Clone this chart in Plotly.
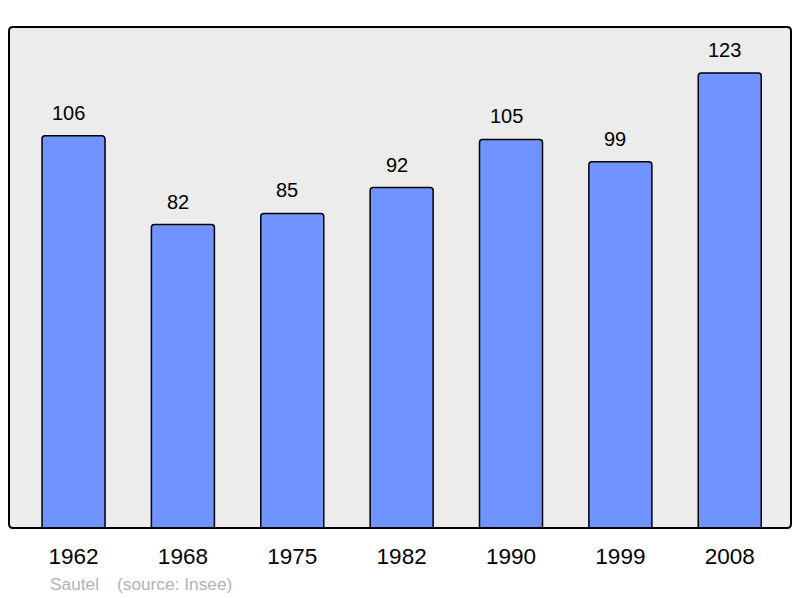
import plotly.graph_objects as go

years = ["1962", "1968", "1975", "1982", "1990", "1999", "2008"]
population = [106, 82, 85, 92, 105, 99, 123]
author_text = "Sautel"
source_text = "(source: Insee)"

# page has an 8px body margin, so the figure is drawn 8px smaller and offset
OFF = 8
W, H = 800 - OFF, 598 - OFF
L, T = 9 - OFF, 27 - OFF
R = W - (791 - OFF)
B = H - (528 - OFF)
PW, PH = W - L - R, H - T - B

fig = go.Figure()
fig.add_trace(go.Bar(
    x=years, y=population, width=0.576,
    marker=dict(color="#7094ff", line=dict(color="#000000", width=1.5), cornerradius=3),
    hoverinfo="skip",
))

ann = []
for i, v in enumerate(population):
    ann.append(dict(x=i, y=v, xref="x", yref="y", text=str(v),
                    showarrow=False, yanchor="middle", yshift=23, xshift=-5,
                    font=dict(family="Liberation Sans, Arial", size=20, color="#000")))

def px_x(x):
    return (x - OFF - L) / PW

def px_y(y):
    return (H - B - (y - OFF)) / PH

ann.append(dict(xref="paper", yref="paper", x=px_x(48), y=px_y(584),
                xanchor="left", yanchor="middle", text=author_text, showarrow=False,
                font=dict(family="Liberation Sans, Arial", size=17.3, color="#b3b3b3")))
ann.append(dict(xref="paper", yref="paper", x=px_x(115), y=px_y(584),
                xanchor="left", yanchor="middle", text=source_text, showarrow=False,
                font=dict(family="Liberation Sans, Arial", size=17.3, color="#b3b3b3")))

fig.update_layout(
    width=W, height=H,
    margin=dict(l=L, r=R, t=T, b=B, autoexpand=False),
    paper_bgcolor="#ffffff",
    plot_bgcolor="#ececec",
    showlegend=False,
    font=dict(family="Liberation Sans, Arial", color="#000"),
    xaxis=dict(type="category", range=[-0.59, 6.56], showgrid=False, zeroline=False,
               ticks="outside", ticklen=8, tickcolor="rgba(0,0,0,0)",
               tickfont=dict(size=22.5, color="#000"), showline=False),
    yaxis=dict(range=[0, 135.4], showgrid=False, zeroline=False, showticklabels=False,
               showline=False),
    annotations=ann,
)

# rounded frame
rx, ry = 4 / PW, 4 / PH
path = (f"M {rx},0 L {1-rx},0 Q 1,0 1,{ry} L 1,{1-ry} Q 1,1 {1-rx},1 "
        f"L {rx},1 Q 0,1 0,{1-ry} L 0,{ry} Q 0,0 {rx},0 Z")
fig.add_shape(type="path", xref="paper", yref="paper", path=path,
              line=dict(color="#000000", width=2), layer="above")

fig.write_html("out.html")
